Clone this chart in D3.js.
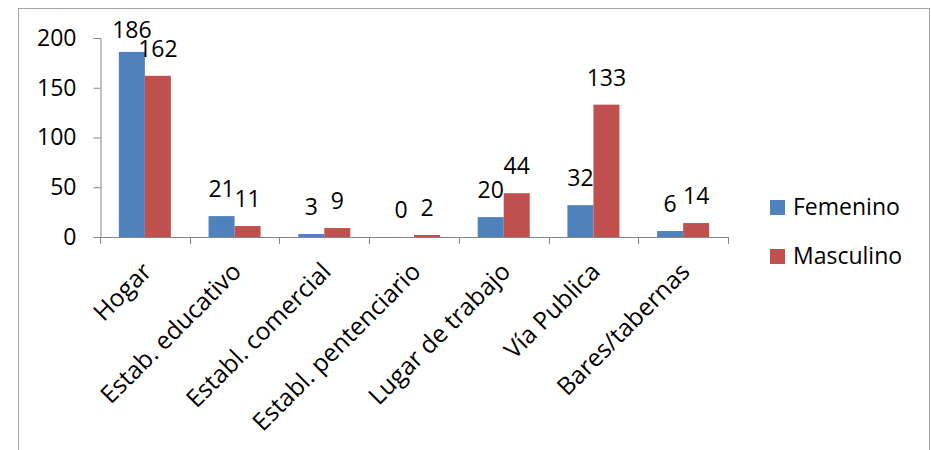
<!DOCTYPE html>
<html>
<head>
<meta charset="utf-8">
<script src="https://cdn.jsdelivr.net/npm/d3@7"></script>
<style>
  body { margin: 0; background: #fff; }
  text { font-family: "Open Sans", sans-serif; fill: #000; }
</style>
</head>
<body>
<svg id="chart" width="931" height="450"></svg>
<script>
const categories = ["Hogar", "Estab. educativo", "Establ. comercial", "Establ. pentenciario",
  "Lugar de trabajo", "Vía Publica", "Bares/tabernas"];
const femenino = [186, 21, 3, 0, 20, 32, 6];
const masculino = [162, 11, 9, 2, 44, 133, 14];
const seriesNames = ["Femenino", "Masculino"];
const seriesColors = ["#4F81BD", "#C0504D"];
const yTicks = [0, 50, 100, 150, 200];

const svg = d3.select("#chart");
const fontSize = 23;

// outer frame (bottom edge runs off the picture)
svg.append("rect")
  .attr("x", 18.5).attr("y", 8.5)
  .attr("width", 911).attr("height", 460)
  .attr("fill", "none").attr("stroke", "#a6a6a6");

const plot = { left: 100, right: 728, top: 38, bottom: 237 };

const x = d3.scaleBand().domain(categories).range([plot.left, plot.right]).paddingInner(0.42).paddingOuter(0.21);
const xOuter = d3.scaleBand().domain(categories).range([plot.left, plot.right]);
const xSub = d3.scaleBand().domain(seriesNames).range([0, x.bandwidth()]);
const y = d3.scaleLinear().domain([0, 200]).range([plot.bottom, plot.top]);

// y axis
const yAxis = svg.append("g")
  .attr("transform", `translate(${plot.left + 0.5},0)`)
  .call(d3.axisLeft(y).tickValues(yTicks).tickSize(7).tickPadding(17));
yAxis.select(".domain").attr("stroke", "#868686");
yAxis.selectAll(".tick line").attr("stroke", "#868686");
yAxis.selectAll(".tick text").style("font-size", fontSize + "px");

// x axis line + ticks at band boundaries
const xg = svg.append("g");
xg.append("line")
  .attr("x1", plot.left).attr("x2", plot.right)
  .attr("y1", plot.bottom + 0.5).attr("y2", plot.bottom + 0.5)
  .attr("stroke", "#868686");
const bounds = categories.map(c => xOuter(c)).concat([plot.right]);
xg.selectAll("line.tk").data(bounds).join("line")
  .attr("class", "tk")
  .attr("x1", d => Math.round(d) + 0.5).attr("x2", d => Math.round(d) + 0.5)
  .attr("y1", plot.bottom).attr("y2", plot.bottom + 7)
  .attr("stroke", "#868686");

// category labels
xg.selectAll("text").data(categories).join("text")
  .attr("transform", d => `translate(${xOuter(d) + xOuter.bandwidth() / 2 - 4},${plot.bottom + 24}) rotate(-45)`)
  .attr("text-anchor", "end")
  .attr("dy", "0.7em")
  .style("font-size", "24.5px")
  .text(d => d);

// bars
const rows = categories.map((c, i) => ({ cat: c, vals: [femenino[i], masculino[i]] }));
const groups = svg.append("g").selectAll("g").data(rows).join("g")
  .attr("transform", d => `translate(${x(d.cat)},0)`);

groups.selectAll("rect").data(d => d.vals.map((v, j) => ({ v, s: seriesNames[j], j })))
  .join("rect")
  .attr("x", d => xSub(d.s))
  .attr("y", d => y(d.v))
  .attr("width", xSub.bandwidth())
  .attr("height", d => y(0) - y(d.v))
  .attr("fill", d => seriesColors[d.j]);

groups.selectAll("text").data(d => d.vals.map((v, j) => ({ v, s: seriesNames[j], j })))
  .join("text")
  .attr("x", d => xSub(d.s) + xSub.bandwidth() / 2)
  .attr("y", d => Math.max(y(d.v) - 19, 38))
  .attr("text-anchor", "middle")
  .style("font-size", fontSize + "px")
  .text(d => d.v);

// legend
const legend = svg.append("g").selectAll("g").data(seriesNames).join("g")
  .attr("transform", (d, i) => `translate(770,${200 + i * 49})`);
legend.append("rect")
  .attr("width", 15).attr("height", 15)
  .attr("fill", (d, i) => seriesColors[i]);
legend.append("text")
  .attr("x", 23).attr("y", 15)
  .style("font-size", fontSize + "px")
  .text(d => d);
</script>
</body>
</html>
